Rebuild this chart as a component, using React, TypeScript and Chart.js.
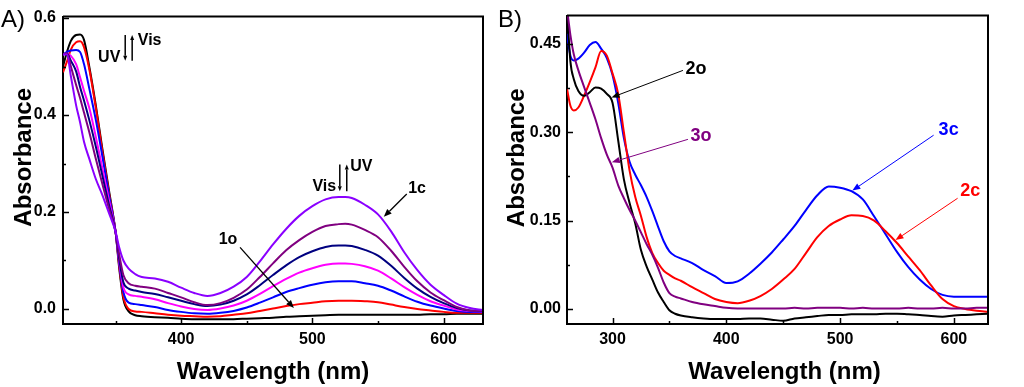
import React, { useEffect, useRef } from 'react';
import { Chart, registerables } from 'chart.js';

Chart.register(...registerables);

const FONT = '"Liberation Sans", Arial, Helvetica, sans-serif';

// ---------------- Panel A data ----------------
const wavelengthsA = [310, 313, 316, 320, 323, 326, 330, 335, 340, 345, 350, 353, 356, 360, 365, 370, 380, 390, 400, 410, 420,
  430, 440, 450, 460, 470, 480, 490, 500, 510, 520, 525, 530, 540, 550, 560, 570, 580, 590, 600, 610, 620, 630];

const absA_black = [0.50, 0.53, 0.553, 0.565, 0.566, 0.555, 0.50, 0.42, 0.33, 0.245, 0.16, 0.08, 0.02, -0.005, -0.013, -0.015, -0.017, -0.018, -0.020, -0.021, -0.021,
  -0.021, -0.021, -0.020, -0.019, -0.018, -0.016, -0.015, -0.014, -0.013, -0.012, -0.012, -0.012, -0.012, -0.012, -0.012, -0.012, -0.012, -0.011, -0.011, -0.010, -0.010, -0.010];
const absA_red = [0.488, 0.51, 0.535, 0.55, 0.552, 0.54, 0.495, 0.415, 0.325, 0.24, 0.16, 0.085, 0.025, 0.0, -0.005, -0.006, -0.009, -0.012, -0.014, -0.015, -0.016,
  -0.015, -0.012, -0.009, -0.004, 0.001, 0.006, 0.010, 0.013, 0.016, 0.017, 0.017, 0.017, 0.016, 0.014, 0.009, 0.004, 0.000, -0.003, -0.006, -0.008, -0.008, -0.008];
const absA_blue = [0.525, 0.53, 0.533, 0.534, 0.53, 0.505, 0.455, 0.39, 0.315, 0.235, 0.16, 0.09, 0.035, 0.013, 0.01, 0.008, 0.004, -0.002, -0.006, -0.009, -0.010,
  -0.008, -0.004, 0.003, 0.013, 0.024, 0.035, 0.043, 0.050, 0.055, 0.057, 0.057, 0.057, 0.053, 0.048, 0.038, 0.026, 0.015, 0.007, 0.001, -0.004, -0.006, -0.006];
const absA_magenta = [0.525, 0.527, 0.522, 0.505, 0.478, 0.45, 0.415, 0.355, 0.29, 0.225, 0.16, 0.095, 0.045, 0.03, 0.027, 0.025, 0.02, 0.012, 0.005, 0.0, -0.002,
  0.001, 0.007, 0.017, 0.031, 0.047, 0.062, 0.075, 0.084, 0.091, 0.094, 0.094, 0.093, 0.088, 0.079, 0.063, 0.045, 0.029, 0.016, 0.007, -0.001, -0.004, -0.005];
const absA_navy = [0.525, 0.527, 0.512, 0.49, 0.458, 0.43, 0.39, 0.335, 0.275, 0.215, 0.16, 0.1, 0.055, 0.042, 0.038, 0.035, 0.031, 0.024, 0.017, 0.01, 0.006,
  0.009, 0.017, 0.030, 0.049, 0.070, 0.090, 0.107, 0.119, 0.128, 0.131, 0.131, 0.130, 0.122, 0.110, 0.089, 0.064, 0.042, 0.025, 0.012, 0.002, -0.003, -0.004];
const absA_purple = [0.525, 0.527, 0.5, 0.462, 0.435, 0.405, 0.365, 0.31, 0.258, 0.207, 0.16, 0.11, 0.07, 0.053, 0.048, 0.046, 0.042, 0.033, 0.024, 0.014, 0.008,
  0.012, 0.023, 0.040, 0.066, 0.094, 0.121, 0.142, 0.159, 0.171, 0.175, 0.176, 0.174, 0.163, 0.148, 0.120, 0.087, 0.057, 0.034, 0.018, 0.004, -0.003, -0.004];
const absA_violet = [0.525, 0.525, 0.48, 0.42, 0.385, 0.345, 0.31, 0.268, 0.235, 0.198, 0.16, 0.125, 0.1, 0.083, 0.072, 0.066, 0.063, 0.056, 0.044, 0.033, 0.027,
  0.033, 0.046, 0.066, 0.098, 0.133, 0.165, 0.192, 0.212, 0.226, 0.231, 0.231, 0.229, 0.215, 0.195, 0.160, 0.117, 0.080, 0.050, 0.029, 0.011, 0.002, -0.002];

const xTicksA = [400, 500, 600];
const xMinorA = [350, 450, 550];
const yTicksA = [0, 0.2, 0.4, 0.6];
const yMinorA = [0.1, 0.3, 0.5];

// ---------------- Panel B data ----------------
const wavelengthsB = [260, 263, 266, 270, 275, 280, 285, 290, 295, 300, 305, 310, 315, 320, 325, 330, 335, 340, 345, 350, 355, 360,
  370, 380, 390, 400, 410, 420, 430, 440, 450, 460, 470, 480, 490, 500, 510, 520, 530, 540, 550, 560, 570, 580, 590, 600, 610, 620, 630];

const absB_2o = [0.51, 0.42, 0.39, 0.37, 0.362, 0.368, 0.376, 0.374, 0.365, 0.35, 0.286, 0.22, 0.18, 0.145, 0.10, 0.072, 0.05, 0.028, 0.012, -0.002, -0.008, -0.011,
  -0.014, -0.016, -0.017, -0.017, -0.017, -0.016, -0.016, -0.018, -0.020, -0.016, -0.014, -0.012, -0.010, -0.010, -0.009, -0.009, -0.009, -0.008, -0.008, -0.009, -0.010, -0.012, -0.013, -0.011, -0.010, -0.009, -0.008];
const absB_2c = [0.374, 0.345, 0.337, 0.342, 0.362, 0.385, 0.41, 0.438, 0.43, 0.40, 0.365, 0.30, 0.235, 0.19, 0.158, 0.122, 0.095, 0.078, 0.065, 0.058, 0.052, 0.048,
  0.037, 0.027, 0.017, 0.012, 0.010, 0.014, 0.022, 0.034, 0.050, 0.068, 0.095, 0.122, 0.141, 0.152, 0.159, 0.158, 0.150, 0.132, 0.112, 0.089, 0.066, 0.040, 0.017, 0.005, 0.0, -0.003, -0.005];
const absB_3c = [0.467, 0.43, 0.422, 0.425, 0.435, 0.448, 0.453, 0.442, 0.426, 0.397, 0.35, 0.29, 0.25, 0.228, 0.21, 0.19, 0.166, 0.14, 0.115, 0.098, 0.09, 0.086,
  0.078, 0.066, 0.056, 0.044, 0.047, 0.06, 0.077, 0.096, 0.118, 0.141, 0.168, 0.193, 0.208, 0.206, 0.2, 0.186, 0.157, 0.127, 0.097, 0.071, 0.05, 0.034, 0.024, 0.021, 0.021, 0.021, 0.021];
const absB_3o = [0.51, 0.465, 0.432, 0.405, 0.377, 0.35, 0.322, 0.29, 0.262, 0.24, 0.21, 0.188, 0.168, 0.15, 0.13, 0.11, 0.092, 0.07, 0.045, 0.027, 0.021, 0.018,
  0.012, 0.008, 0.005, 0.002, 0.001, 0.001, 0.001, 0.001, 0.001, 0.002, 0.001, 0.002, 0.002, 0.002, 0.001, 0.002, 0.001, 0.001, 0.001, 0.002, 0.001, 0.001, 0.002, 0.001, 0.001, 0.002, 0.002];

const xTicksB = [300, 400, 500, 600];
const xMinorB = [350, 450, 550];
const yTicksB = [0, 0.15, 0.30, 0.45];
const yMinorB = [0.075, 0.225, 0.375];

// ---------------- Annotations (data units) ----------------
const notesA = [
  { text: 'UV', x: 345.2, y: 0.518, color: '#000000' },
  { text: 'Vis', x: 376.0, y: 0.554, color: '#000000' },
  { text: 'Vis', x: 509.1, y: 0.253, color: '#000000' },
  { text: 'UV', x: 537.3, y: 0.294, color: '#000000' },
  { text: '1c', x: 579.8, y: 0.249, color: '#000000' },
  { text: '1o', x: 435.7, y: 0.143, color: '#000000' },
];
const arrowsA = [
  { x1: 357.4, y1: 0.565, x2: 357.4, y2: 0.512, color: '#000000', w: 1.5, head: 5 },
  { x1: 362.7, y1: 0.512, x2: 362.7, y2: 0.565, color: '#000000', w: 1.5, head: 5 },
  { x1: 520.9, y1: 0.298, x2: 520.9, y2: 0.243, color: '#000000', w: 1.5, head: 5 },
  { x1: 526.2, y1: 0.243, x2: 526.2, y2: 0.298, color: '#000000', w: 1.5, head: 5 },
  { x1: 571.9, y1: 0.237, x2: 554.4, y2: 0.190, color: '#000000', w: 1.3, head: 8 },
  { x1: 444.9, y1: 0.127, x2: 485.9, y2: 0.002, color: '#000000', w: 1.3, head: 8 },
];
const notesB = [
  { text: '2o', x: 373.4, y: 0.408, color: '#000000' },
  { text: '3o', x: 377.8, y: 0.293, color: '#800080' },
  { text: '3c', x: 595.4, y: 0.303, color: '#0000FF' },
  { text: '2c', x: 614.5, y: 0.201, color: '#FF0000' },
];
const arrowsB = [
  { x1: 361.9, y1: 0.405, x2: 299.1, y2: 0.359, color: '#000000', w: 1, head: 8 },
  { x1: 366.3, y1: 0.288, x2: 299.4, y2: 0.249, color: '#800080', w: 1, head: 8 },
  { x1: 582.2, y1: 0.295, x2: 510.8, y2: 0.201, color: '#0000FF', w: 1, head: 8 },
  { x1: 603.3, y1: 0.188, x2: 548.7, y2: 0.117, color: '#FF0000', w: 1, head: 8 },
];

type Note = { text: string; x: number; y: number; color: string };
type Arrow = { x1: number; y1: number; x2: number; y2: number; color: string; w: number; head: number };

function drawArrow(ctx: CanvasRenderingContext2D, x1: number, y1: number, x2: number, y2: number, color: string, w: number, head: number) {
  const ang = Math.atan2(y2 - y1, x2 - x1);
  const bx = x2 - head * Math.cos(ang);
  const by = y2 - head * Math.sin(ang);
  ctx.strokeStyle = color;
  ctx.fillStyle = color;
  ctx.lineWidth = w;
  ctx.beginPath();
  ctx.moveTo(x1, y1);
  ctx.lineTo(bx, by);
  ctx.stroke();
  const hw = head * 0.4;
  ctx.beginPath();
  ctx.moveTo(x2, y2);
  ctx.lineTo(bx + hw * Math.sin(ang), by - hw * Math.cos(ang));
  ctx.lineTo(bx - hw * Math.sin(ang), by + hw * Math.cos(ang));
  ctx.closePath();
  ctx.fill();
}

type DecorSpec = {
  xMinor: number[]; yMinor: number[]; notes: Note[]; arrows: Arrow[]; noteSize: number;
  yTitleX: number; yTitleDy: number; xTitleDx: number;
};

function makeDecor(p: DecorSpec) {
  return {
    id: 'decor',
    afterDraw(chart: any) {
      const { ctx, chartArea } = chart;
      const { left, right, top, bottom } = chartArea;
      const xs = chart.scales.x;
      const ys = chart.scales.y;
      ctx.save();
      ctx.strokeStyle = '#000';
      ctx.lineWidth = 2;
      ctx.beginPath();
      ctx.moveTo(left, top);
      ctx.lineTo(right, top);
      ctx.lineTo(right, bottom);
      ctx.stroke();
      ctx.lineWidth = 1.5;
      const drawX = (v: number, len: number) => {
        const px = Math.round(xs.getPixelForValue(v)) + 0.5;
        ctx.beginPath();
        ctx.moveTo(px, bottom);
        ctx.lineTo(px, bottom - len);
        ctx.stroke();
      };
      const drawY = (v: number, len: number) => {
        const py = Math.round(ys.getPixelForValue(v)) + 0.5;
        ctx.beginPath();
        ctx.moveTo(left, py);
        ctx.lineTo(left + len, py);
        ctx.stroke();
      };
      xs.ticks.forEach((t: any) => drawX(t.value, 6));
      p.xMinor.forEach((v) => drawX(v, 3));
      ys.ticks.forEach((t: any) => drawY(t.value, 6));
      p.yMinor.forEach((v) => drawY(v, 3));

      p.arrows.forEach((a) =>
        drawArrow(ctx, xs.getPixelForValue(a.x1), ys.getPixelForValue(a.y1), xs.getPixelForValue(a.x2), ys.getPixelForValue(a.y2), a.color, a.w, a.head)
      );
      ctx.font = `bold ${p.noteSize}px ${FONT}`;
      ctx.textAlign = 'center';
      ctx.textBaseline = 'middle';
      p.notes.forEach((n) => {
        ctx.fillStyle = n.color;
        ctx.fillText(n.text, xs.getPixelForValue(n.x), ys.getPixelForValue(n.y));
      });

      // axis titles
      ctx.fillStyle = '#000';
      ctx.font = `bold 24px ${FONT}`;
      ctx.textAlign = 'center';
      ctx.textBaseline = 'middle';
      ctx.fillText('Wavelength (nm)', (left + right) / 2 + p.xTitleDx, chart.height - 14.4);
      ctx.translate(p.yTitleX, (top + bottom) / 2 + p.yTitleDy);
      ctx.rotate(-Math.PI / 2);
      ctx.fillText('Absorbance', 0, 0);
      ctx.restore();
    },
  };
}

type Series = { label: string; values: number[]; color: string };
type PanelSpec = {
  wl: number[];
  series: Series[];
  xMin: number; xMax: number; yMin: number; yMax: number;
  xTicks: number[]; yTicks: number[]; xMinor: number[]; yMinor: number[];
  yDigits: number;
  yAxisWidth: number; padRight: number; yLabelPad: number;
  yTitleX: number; yTitleDy: number; xTitleDx: number;
  notes: Note[]; arrows: Arrow[]; noteSize: number;
};

function makeConfig(p: PanelSpec): any {
  const tickFont = { family: FONT, size: 16, weight: 'bold' as const };
  return {
    type: 'line',
    data: {
      datasets: p.series.map((s) => ({
        label: s.label,
        data: p.wl.map((w, i) => ({ x: w, y: s.values[i] })),
        borderColor: s.color,
        backgroundColor: s.color,
        borderWidth: 2,
        pointRadius: 0,
        fill: false,
        cubicInterpolationMode: 'monotone',
      })),
    },
    options: {
      animation: false,
      responsive: false,
      events: [],
      layout: { padding: { top: 15, right: p.padRight, left: 0, bottom: 0 } },
      plugins: { legend: { display: false }, tooltip: { enabled: false } },
      scales: {
        x: {
          type: 'linear',
          min: p.xMin,
          max: p.xMax,
          afterFit: (s: any) => { s.height = 63; },
          afterBuildTicks: (s: any) => { s.ticks = p.xTicks.map((v) => ({ value: v })); },
          grid: { display: false, drawTicks: false },
          border: { display: true, color: '#000', width: 2 },
          ticks: { font: tickFont, color: '#000', padding: 6, maxRotation: 0, autoSkip: false, callback: (v: any) => String(v) },
          title: { display: false },
        },
        y: {
          type: 'linear',
          min: p.yMin,
          max: p.yMax,
          afterFit: (s: any) => { s.width = p.yAxisWidth; },
          afterBuildTicks: (s: any) => { s.ticks = p.yTicks.map((v) => ({ value: v })); },
          grid: { display: false, drawTicks: false },
          border: { display: true, color: '#000', width: 2 },
          ticks: { font: tickFont, color: '#000', padding: p.yLabelPad, autoSkip: false, callback: (v: any) => Number(v).toFixed(p.yDigits) },
          title: { display: false },
        },
      },
    },
    plugins: [makeDecor({
      xMinor: p.xMinor, yMinor: p.yMinor, notes: p.notes, arrows: p.arrows, noteSize: p.noteSize,
      yTitleX: p.yTitleX, yTitleDy: p.yTitleDy, xTitleDx: p.xTitleDx,
    })],
  };
}

const panelA: PanelSpec = {
  wl: wavelengthsA,
  series: [
    { label: '1c', values: absA_violet, color: '#8A00FF' },
    { label: 'step5', values: absA_purple, color: '#800080' },
    { label: 'step4', values: absA_navy, color: '#000080' },
    { label: 'step3', values: absA_magenta, color: '#FF00FF' },
    { label: 'step2', values: absA_blue, color: '#0000FF' },
    { label: 'step1', values: absA_red, color: '#FF0000' },
    { label: '1o', values: absA_black, color: '#000000' },
  ],
  xMin: 310, xMax: 630, yMin: -0.031, yMax: 0.603,
  xTicks: xTicksA, yTicks: yTicksA, xMinor: xMinorA, yMinor: yMinorA,
  yDigits: 1,
  yAxisWidth: 63, padRight: 17, yLabelPad: 7,
  yTitleX: 24.5, yTitleDy: -13, xTitleDx: 0,
  notes: notesA, arrows: arrowsA, noteSize: 16,
};

const panelB: PanelSpec = {
  wl: wavelengthsB,
  series: [
    { label: '3o', values: absB_3o, color: '#800080' },
    { label: '2o', values: absB_2o, color: '#000000' },
    { label: '2c', values: absB_2c, color: '#FF0000' },
    { label: '3c', values: absB_3c, color: '#0000FF' },
  ],
  xMin: 260, xMax: 630, yMin: -0.0254, yMax: 0.498,
  xTicks: xTicksB, yTicks: yTicksB, xMinor: xMinorB, yMinor: yMinorB,
  yDigits: 2,
  yAxisWidth: 67, padRight: 36, yLabelPad: 6,
  yTitleX: 17.5, yTitleDy: -12, xTitleDx: 7,
  notes: notesB, arrows: arrowsB, noteSize: 18,
};

function Panel({ spec, width, left }: { spec: PanelSpec; width: number; left: number }) {
  const ref = useRef<HTMLCanvasElement>(null);
  useEffect(() => {
    const chart = new Chart(ref.current as HTMLCanvasElement, makeConfig(spec));
    return () => chart.destroy();
  }, [spec]);
  return (
    <canvas
      ref={ref}
      width={width}
      height={387}
      style={{ position: 'absolute', left, top: 0, width, height: 387 }}
    />
  );
}

const panelLabelStyle: React.CSSProperties = {
  position: 'absolute',
  top: 7,
  fontFamily: FONT,
  fontSize: 24,
  lineHeight: '24px',
  color: '#000',
};

export default function App() {
  return (
    <div style={{ position: 'absolute', left: 0, top: 0, width: 1024, height: 387, background: '#fff', overflow: 'hidden' }}>
      <Panel spec={panelA} width={500} left={0} />
      <Panel spec={panelB} width={524} left={500} />
      <div style={{ ...panelLabelStyle, left: 1 }}>A)</div>
      <div style={{ ...panelLabelStyle, left: 498 }}>B)</div>
    </div>
  );
}
